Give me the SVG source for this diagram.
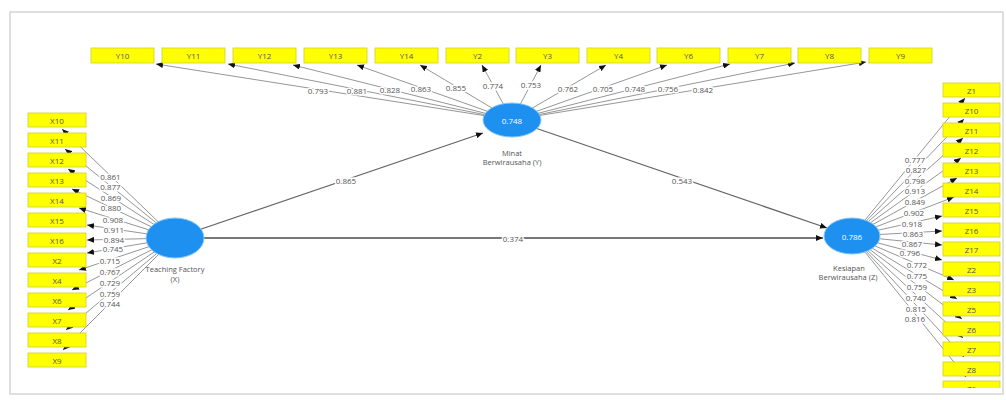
<svg xmlns="http://www.w3.org/2000/svg" width="1006" height="400" viewBox="0 0 1006 400">
<defs>
<marker id="ah" markerUnits="userSpaceOnUse" markerWidth="7" markerHeight="6" refX="7" refY="3" orient="auto"><path d="M0,0 L7,3 L0,6 z" fill="#111"/></marker>
<clipPath id="frameclip"><rect x="10" y="12" width="994" height="376"/></clipPath>
</defs>
<style>
.ld{stroke:#8a8a8a;stroke-width:0.9;fill:none;marker-end:url(#ah)}
.st{stroke:#666;stroke-width:1.3;fill:none;marker-end:url(#ah)}
.box{fill:#ffff00;stroke:#cfcf2a;stroke-width:0.8}
.bt{font-family:"Open Sans","Liberation Sans",sans-serif;font-size:8px;fill:#555;text-anchor:middle;dominant-baseline:central}
.lv{font-family:"Open Sans","Liberation Sans",sans-serif;font-size:8px;fill:#555;text-anchor:middle;dominant-baseline:central;stroke:#fff;stroke-width:3;paint-order:stroke}
.lat{fill:#1e90f0;stroke:#86c8ff;stroke-width:1}
.nv{font-family:"Open Sans","Liberation Sans",sans-serif;font-size:8px;fill:#fff;text-anchor:middle;dominant-baseline:central}
.nl{font-family:"Open Sans","Liberation Sans",sans-serif;font-size:7.5px;fill:#555;text-anchor:middle}
</style>
<rect x="0" y="0" width="1006" height="400" fill="#fff"/>
<rect x="10" y="12" width="993" height="382" fill="#fff" stroke="#d4d4d4" stroke-width="1.5"/>
<g clip-path="url(#frameclip)">
<g id="connectors">
<line class="st" x1="175" y1="238" x2="483" y2="133"/>
<line class="st" x1="512" y1="120" x2="827" y2="228"/>
<line class="st" x1="175" y1="238" x2="823" y2="238" style="stroke-width:1.8;stroke:#777"/>
<line class="ld" x1="512" y1="120" x2="156" y2="64"/>
<line class="ld" x1="512" y1="120" x2="228" y2="64"/>
<line class="ld" x1="512" y1="120" x2="293" y2="65"/>
<line class="ld" x1="512" y1="120" x2="357" y2="65"/>
<line class="ld" x1="512" y1="120" x2="420" y2="65"/>
<line class="ld" x1="512" y1="120" x2="482" y2="65"/>
<line class="ld" x1="512" y1="120" x2="541" y2="65"/>
<line class="ld" x1="512" y1="120" x2="606" y2="65"/>
<line class="ld" x1="512" y1="120" x2="667" y2="65"/>
<line class="ld" x1="512" y1="120" x2="730" y2="64"/>
<line class="ld" x1="512" y1="120" x2="795" y2="63"/>
<line class="ld" x1="512" y1="120" x2="866" y2="62"/>
<line class="ld" x1="175" y1="238" x2="62" y2="129"/>
<line class="ld" x1="175" y1="238" x2="65" y2="149"/>
<line class="ld" x1="175" y1="238" x2="68" y2="169"/>
<line class="ld" x1="175" y1="238" x2="72" y2="189"/>
<line class="ld" x1="175" y1="238" x2="79" y2="208"/>
<line class="ld" x1="175" y1="238" x2="87" y2="225"/>
<line class="ld" x1="175" y1="238" x2="87" y2="240"/>
<line class="ld" x1="175" y1="238" x2="87" y2="253"/>
<line class="ld" x1="175" y1="238" x2="79" y2="270"/>
<line class="ld" x1="175" y1="238" x2="72" y2="290"/>
<line class="ld" x1="175" y1="238" x2="68" y2="310"/>
<line class="ld" x1="175" y1="238" x2="66" y2="330"/>
<line class="ld" x1="175" y1="238" x2="63" y2="350"/>
<line class="ld" x1="852" y1="236" x2="965" y2="98"/>
<line class="ld" x1="852" y1="236" x2="964" y2="119"/>
<line class="ld" x1="852" y1="236" x2="963" y2="138"/>
<line class="ld" x1="852" y1="236" x2="961" y2="158"/>
<line class="ld" x1="852" y1="236" x2="957" y2="178"/>
<line class="ld" x1="852" y1="236" x2="954" y2="197"/>
<line class="ld" x1="852" y1="236" x2="942" y2="216"/>
<line class="ld" x1="852" y1="236" x2="942" y2="231"/>
<line class="ld" x1="852" y1="236" x2="942" y2="245"/>
<line class="ld" x1="852" y1="236" x2="942" y2="260"/>
<line class="ld" x1="852" y1="236" x2="954" y2="280"/>
<line class="ld" x1="852" y1="236" x2="957" y2="299"/>
<line class="ld" x1="852" y1="236" x2="962" y2="319"/>
<line class="ld" x1="852" y1="236" x2="963" y2="338"/>
<line class="ld" x1="852" y1="236" x2="964" y2="357"/>
<line class="ld" x1="852" y1="236" x2="966" y2="377"/>
<text class="lv" x="346" y="180">0.865</text>
<text class="lv" x="682" y="180">0.543</text>
<text class="lv" x="513" y="238">0.374</text>
<text class="lv" x="318" y="90">0.793</text>
<text class="lv" x="357" y="90">0.881</text>
<text class="lv" x="390" y="89.5">0.828</text>
<text class="lv" x="421" y="88">0.863</text>
<text class="lv" x="456" y="87">0.855</text>
<text class="lv" x="493" y="85">0.774</text>
<text class="lv" x="531" y="84">0.753</text>
<text class="lv" x="568" y="88">0.762</text>
<text class="lv" x="603" y="88">0.705</text>
<text class="lv" x="635" y="88.5">0.748</text>
<text class="lv" x="668" y="88.5">0.756</text>
<text class="lv" x="703" y="89">0.842</text>
<text class="lv" x="110.5" y="176">0.861</text>
<text class="lv" x="110.5" y="186">0.877</text>
<text class="lv" x="111" y="197">0.869</text>
<text class="lv" x="111" y="207.5">0.880</text>
<text class="lv" x="113" y="219">0.908</text>
<text class="lv" x="114" y="229">0.911</text>
<text class="lv" x="114" y="239.4">0.894</text>
<text class="lv" x="113" y="248.6">0.745</text>
<text class="lv" x="110" y="260">0.715</text>
<text class="lv" x="110" y="271">0.767</text>
<text class="lv" x="110" y="282">0.729</text>
<text class="lv" x="110" y="293">0.759</text>
<text class="lv" x="110" y="303">0.744</text>
<text class="lv" x="915" y="159">0.777</text>
<text class="lv" x="916" y="169">0.827</text>
<text class="lv" x="915" y="180">0.798</text>
<text class="lv" x="915" y="190">0.913</text>
<text class="lv" x="915" y="201">0.849</text>
<text class="lv" x="914" y="212">0.902</text>
<text class="lv" x="912" y="223">0.918</text>
<text class="lv" x="913" y="233">0.863</text>
<text class="lv" x="912" y="243">0.867</text>
<text class="lv" x="910" y="252">0.796</text>
<text class="lv" x="917" y="264">0.772</text>
<text class="lv" x="917" y="275">0.775</text>
<text class="lv" x="917" y="286">0.759</text>
<text class="lv" x="916" y="297">0.740</text>
<text class="lv" x="916" y="308">0.815</text>
<text class="lv" x="915" y="318">0.816</text>
</g>
<g id="node-X"><ellipse class="lat" cx="175" cy="238" rx="29" ry="20"/><text class="nl" x="175" y="272">Teaching Factory</text><text class="nl" x="175" y="281.5">(X)</text></g>
<g id="node-Y"><ellipse class="lat" cx="512" cy="120" rx="29" ry="17"/><text class="nv" x="512" y="120">0.748</text><text class="nl" x="512" y="155.5">Minat</text><text class="nl" x="512" y="165">Berwirausaha (Y)</text></g>
<g id="node-Z"><ellipse class="lat" cx="852" cy="236" rx="28" ry="18"/><text class="nv" x="852" y="236">0.786</text><text class="nl" x="849" y="270.5">Kesiapan</text><text class="nl" x="848" y="280">Berwirausaha (Z)</text></g>
<g id="Y10"><rect class="box" x="91" y="48" width="63" height="15"/><text class="bt" x="122.5" y="55.5">Y10</text></g>
<g id="Y11"><rect class="box" x="162" y="48" width="63" height="15"/><text class="bt" x="193.5" y="55.5">Y11</text></g>
<g id="Y12"><rect class="box" x="233" y="48" width="63" height="15"/><text class="bt" x="264.5" y="55.5">Y12</text></g>
<g id="Y13"><rect class="box" x="304" y="48" width="63" height="15"/><text class="bt" x="335.5" y="55.5">Y13</text></g>
<g id="Y14"><rect class="box" x="375" y="48" width="63" height="15"/><text class="bt" x="406.5" y="55.5">Y14</text></g>
<g id="Y2"><rect class="box" x="446" y="48" width="63" height="15"/><text class="bt" x="477.5" y="55.5">Y2</text></g>
<g id="Y3"><rect class="box" x="516" y="48" width="63" height="15"/><text class="bt" x="547.5" y="55.5">Y3</text></g>
<g id="Y4"><rect class="box" x="587" y="48" width="63" height="15"/><text class="bt" x="618.5" y="55.5">Y4</text></g>
<g id="Y6"><rect class="box" x="657" y="48" width="63" height="15"/><text class="bt" x="688.5" y="55.5">Y6</text></g>
<g id="Y7"><rect class="box" x="728" y="48" width="63" height="15"/><text class="bt" x="759.5" y="55.5">Y7</text></g>
<g id="Y8"><rect class="box" x="798" y="48" width="63" height="15"/><text class="bt" x="829.5" y="55.5">Y8</text></g>
<g id="Y9"><rect class="box" x="869" y="48" width="63" height="15"/><text class="bt" x="900.5" y="55.5">Y9</text></g>
<g id="X10"><rect class="box" x="28" y="113" width="58" height="14"/><text class="bt" x="57" y="120">X10</text></g>
<g id="X11"><rect class="box" x="28" y="133" width="58" height="14"/><text class="bt" x="57" y="140">X11</text></g>
<g id="X12"><rect class="box" x="28" y="153" width="58" height="14"/><text class="bt" x="57" y="160">X12</text></g>
<g id="X13"><rect class="box" x="28" y="173" width="58" height="14"/><text class="bt" x="57" y="180">X13</text></g>
<g id="X14"><rect class="box" x="28" y="193" width="58" height="14"/><text class="bt" x="57" y="200">X14</text></g>
<g id="X15"><rect class="box" x="28" y="213" width="58" height="14"/><text class="bt" x="57" y="220">X15</text></g>
<g id="X16"><rect class="box" x="28" y="233" width="58" height="14"/><text class="bt" x="57" y="240">X16</text></g>
<g id="X2"><rect class="box" x="28" y="253" width="58" height="14"/><text class="bt" x="57" y="260">X2</text></g>
<g id="X4"><rect class="box" x="28" y="273" width="58" height="14"/><text class="bt" x="57" y="280">X4</text></g>
<g id="X6"><rect class="box" x="28" y="293" width="58" height="14"/><text class="bt" x="57" y="300">X6</text></g>
<g id="X7"><rect class="box" x="28" y="313" width="58" height="14"/><text class="bt" x="57" y="320">X7</text></g>
<g id="X8"><rect class="box" x="28" y="333" width="58" height="14"/><text class="bt" x="57" y="340">X8</text></g>
<g id="X9"><rect class="box" x="28" y="353" width="58" height="14"/><text class="bt" x="57" y="360">X9</text></g>
<g id="Z1"><rect class="box" x="943" y="83" width="57" height="14"/><text class="bt" x="971.5" y="90">Z1</text></g>
<g id="Z10"><rect class="box" x="943" y="103" width="57" height="14"/><text class="bt" x="971.5" y="110">Z10</text></g>
<g id="Z11"><rect class="box" x="943" y="123" width="57" height="14"/><text class="bt" x="971.5" y="130">Z11</text></g>
<g id="Z12"><rect class="box" x="943" y="143" width="57" height="14"/><text class="bt" x="971.5" y="150">Z12</text></g>
<g id="Z13"><rect class="box" x="943" y="163" width="57" height="14"/><text class="bt" x="971.5" y="170">Z13</text></g>
<g id="Z14"><rect class="box" x="943" y="183" width="57" height="14"/><text class="bt" x="971.5" y="190">Z14</text></g>
<g id="Z15"><rect class="box" x="943" y="203" width="57" height="14"/><text class="bt" x="971.5" y="210">Z15</text></g>
<g id="Z16"><rect class="box" x="943" y="223" width="57" height="14"/><text class="bt" x="971.5" y="230">Z16</text></g>
<g id="Z17"><rect class="box" x="943" y="242" width="57" height="14"/><text class="bt" x="971.5" y="249">Z17</text></g>
<g id="Z2"><rect class="box" x="943" y="262" width="57" height="14"/><text class="bt" x="971.5" y="269">Z2</text></g>
<g id="Z3"><rect class="box" x="943" y="282" width="57" height="14"/><text class="bt" x="971.5" y="289">Z3</text></g>
<g id="Z5"><rect class="box" x="943" y="302" width="57" height="14"/><text class="bt" x="971.5" y="309">Z5</text></g>
<g id="Z6"><rect class="box" x="943" y="322" width="57" height="14"/><text class="bt" x="971.5" y="329">Z6</text></g>
<g id="Z7"><rect class="box" x="943" y="342" width="57" height="14"/><text class="bt" x="971.5" y="349">Z7</text></g>
<g id="Z8"><rect class="box" x="943" y="362" width="57" height="14"/><text class="bt" x="971.5" y="369">Z8</text></g>
<g id="Z9"><rect class="box" x="943" y="381" width="57" height="14"/><text class="bt" x="971.5" y="388">Z9</text></g>
</g>
</svg>
